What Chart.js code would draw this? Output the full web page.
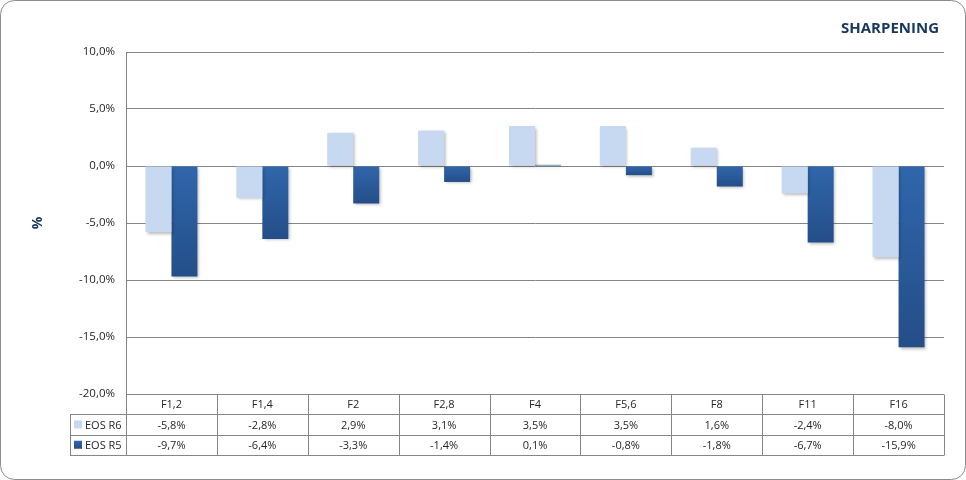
<!DOCTYPE html>
<html>
<head>
<meta charset="utf-8">
<script src="https://cdn.jsdelivr.net/npm/chart.js@4.4.0/dist/chart.umd.min.js"></script>
<style>
html,body{margin:0;padding:0;background:#fff;}
#wrap{width:966px;height:480px;position:relative;}
</style>
</head>
<body>
<div id="wrap"><canvas id="c"></canvas></div>
<script>
const categories = ['F1,2','F1,4','F2','F2,8','F4','F5,6','F8','F11','F16'];
const seriesNames = ['EOS R6','EOS R5'];
const r6Values = [-5.8,-2.8,2.9,3.1,3.5,3.5,1.6,-2.4,-8.0];
const r5Values = [-9.7,-6.4,-3.3,-1.4,0.1,-0.8,-1.8,-6.7,-15.9];
const yMin = -20, yMax = 10, yStep = 5;
const chartTitle = 'SHARPENING';
const yTitle = '%';

const FONT = "'Open Sans', 'Liberation Sans', sans-serif";
const TEXT = '#262626';
const GRID = '#868686';
const LIGHT = '#C6D9F0';

function fmt(v){ return v.toFixed(1).replace('.', ',') + '%'; }

function darkGradient(ctx){
  const chart = ctx.chart;
  if (!chart.chartArea || ctx.type !== 'data') return '#2C5D9E';
  const y = chart.scales.y;
  const v = ctx.raw;
  const y0 = y.getPixelForValue(0);
  const y1 = y.getPixelForValue(v);
  if (Math.abs(y1 - y0) < 1) return '#2C5D9E';
  const g = chart.ctx.createLinearGradient(0, Math.min(y0,y1), 0, Math.max(y0,y1));
  g.addColorStop(0, '#3066AB');
  g.addColorStop(1, '#244E88');
  return g;
}

const shadowPlugin = {
  id: 'barShadow',
  beforeDatasetsDraw(chart){
    const c = chart.ctx;
    c.save();
    c.shadowColor = 'rgba(0,0,0,0.28)';
    c.shadowBlur = 3;
    c.shadowOffsetX = 1.5;
    c.shadowOffsetY = 1.5;
  },
  afterDatasetsDraw(chart){ chart.ctx.restore(); }
};

const framePlugin = {
  id: 'frame',
  beforeDraw(chart){
    const c = chart.ctx;
    c.save();
    c.fillStyle = '#ffffff';
    c.fillRect(0,0,chart.width,chart.height);
    c.strokeStyle = '#8c8c8c';
    c.lineWidth = 1;
    c.beginPath();
    c.roundRect(0.5, 0.5, chart.width-1, chart.height-1, 14);
    c.stroke();
    c.restore();
  },
  afterDraw(chart){
    const c = chart.ctx;
    const area = chart.chartArea;
    const xs = chart.scales.x;
    const n = categories.length;
    const left = area.left, right = area.right;
    const colW = (right - left) / n;
    const top = area.bottom;
    const rowH = 20.3;
    const legendLeft = 70;
    const y1 = top + rowH, y2 = top + 2*rowH, y3 = top + 3*rowH;
    c.save();
    c.strokeStyle = GRID;
    c.lineWidth = 1;
    c.beginPath();
    const hx = (v)=>Math.round(v)+0.5;
    c.moveTo(left, hx(top)); c.lineTo(right, hx(top));
    c.moveTo(legendLeft, hx(y1)); c.lineTo(right, hx(y1));
    c.moveTo(legendLeft, hx(y2)); c.lineTo(right, hx(y2));
    c.moveTo(legendLeft, hx(y3)); c.lineTo(right, hx(y3));
    c.moveTo(hx(legendLeft), hx(y1)); c.lineTo(hx(legendLeft), hx(y3));
    for (let i=0;i<=n;i++){
      const x = hx(left + i*colW);
      c.moveTo(x, hx(top)); c.lineTo(x, hx(y3));
    }
    c.stroke();
    c.fillStyle = TEXT;
    c.font = '11px ' + FONT;
    c.textAlign = 'center';
    c.textBaseline = 'middle';
    categories.forEach((cat,i)=>{
      const x = xs.getPixelForValue(i);
      c.fillText(cat, x, (top+y1)/2 + 1);
      c.fillText(fmt(r6Values[i]), x, (y1+y2)/2 + 1);
      c.fillText(fmt(r5Values[i]), x, (y2+y3)/2 + 1);
    });
    c.textAlign = 'left';
    c.fillStyle = LIGHT;
    c.fillRect(74, (y1+y2)/2 - 4, 8, 8);
    const g = c.createLinearGradient(0,(y2+y3)/2-4,0,(y2+y3)/2+4);
    g.addColorStop(0,'#3066AB'); g.addColorStop(1,'#244E88');
    c.fillStyle = g;
    c.fillRect(74, (y2+y3)/2 - 4, 8, 8);
    c.fillStyle = TEXT;
    c.fillText(seriesNames[0], 85, (y1+y2)/2 + 1);
    c.fillText(seriesNames[1], 85, (y2+y3)/2 + 1);
    c.font = 'bold 15px ' + FONT;
    c.fillStyle = '#17375E';
    c.textAlign = 'right';
    c.textBaseline = 'alphabetic';
    c.fillText(chartTitle, 939, 33);
    c.restore();
  }
};

new Chart(document.getElementById('c'), {
  type: 'bar',
  data: {
    labels: categories,
    datasets: [
      { label: seriesNames[0], data: r6Values, backgroundColor: LIGHT, borderWidth: 0 },
      { label: seriesNames[1], data: r5Values, backgroundColor: darkGradient, borderWidth: 0 }
    ]
  },
  options: {
    responsive: true,
    maintainAspectRatio: false,
    animation: false,
    devicePixelRatio: 1,
    layout: { padding: { left: 0, top: 52, right: 22, bottom: 86 } },
    plugins: { legend: { display: false }, tooltip: { enabled: false }, title: { display: false } },
    datasets: { bar: { categoryPercentage: 0.572, barPercentage: 1.0 } },
    scales: {
      x: { display: false },
      y: {
        min: yMin, max: yMax,
        afterFit(scale){ scale.width = 126; },
        ticks: { stepSize: yStep, callback: (v)=>fmt(v), color: TEXT, font: { family: FONT, size: 11.5 }, padding: 11 },
        grid: { color: GRID, lineWidth: 1, drawTicks: false },
        border: { display: true, color: GRID, width: 1 },
        title: { display: true, text: yTitle, color: '#17375E', font: { family: FONT, size: 14, weight: 'bold' }, padding: { top: 30, bottom: 0 } }
      }
    }
  },
  plugins: [framePlugin, shadowPlugin]
});
</script>
</body>
</html>
